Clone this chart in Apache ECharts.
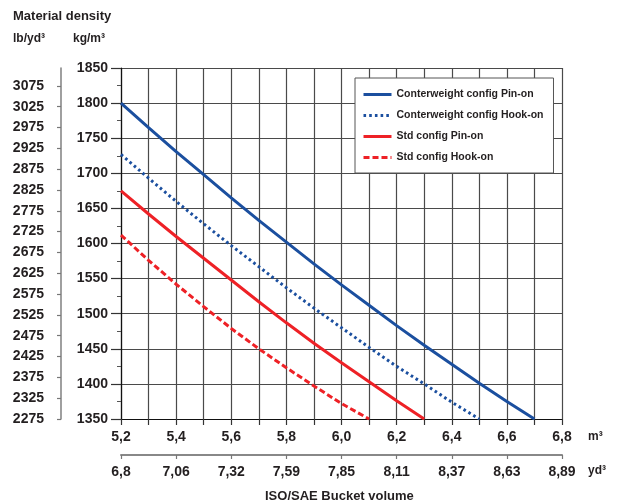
<!DOCTYPE html>
<html>
<head>
<meta charset="utf-8">
<script src="https://cdn.jsdelivr.net/npm/echarts@6/dist/echarts.min.js"></script>
<style>
html,body{margin:0;padding:0;background:#fff;}
#chart{width:618px;height:504px;}
</style>
</head>
<body>
<div id="chart"></div>
<script>
// ---- data ----
const volumeM3 = [5.2, 5.3, 5.4, 5.5, 5.6, 5.7, 5.8, 5.9, 6.0, 6.1, 6.2, 6.3, 6.4, 6.5, 6.6, 6.7];
const cwPinOn   = [1800, 1765, 1731, 1698, 1665, 1633, 1602, 1571, 1541, 1512, 1483, 1455, 1428, 1401, 1375, 1350];
const cwHookOn  = [1727, 1693, 1660, 1628, 1597, 1567, 1537, 1508, 1480, 1452, 1425, 1400, 1374, 1350];
const stdPinOn  = [1675, 1642, 1610, 1579, 1548, 1517, 1487, 1458, 1430, 1403, 1376, 1350];
const stdHookOn = [1612, 1576, 1542, 1510, 1479, 1450, 1423, 1397, 1372, 1350];
const seriesNames = ['Conterweight config Pin-on', 'Conterweight config Hook-on', 'Std config Pin-on', 'Std config Hook-on'];
const ydLabels = ['6,8', '7,06', '7,32', '7,59', '7,85', '8,11', '8,37', '8,63', '8,89'];
const lbTicks = [2275, 2325, 2375, 2425, 2475, 2525, 2575, 2625, 2675, 2725, 2775, 2825, 2875, 2925, 2975, 3025, 3075];
const KG_TO_LB = 1.68556;

const FONT = '"Liberation Sans", Arial, Helvetica, sans-serif';
const TXT = '#231f20';
const BLUE = '#1b4f9f';
const RED = '#ee2126';

function pairs(vals) { return vals.map((v, i) => [volumeM3[i], v]); }
function plain(v) { return String(Math.round(v)); }

const chart = echarts.init(document.getElementById('chart'), null, {renderer: 'canvas'});
const yMin = 1350, yMax = 1850;

const option = {
  animation: false,
  backgroundColor: '#fff',
  textStyle: {fontFamily: FONT},
  grid: {left: 121, top: 68, right: 56, bottom: 85, containLabel: false},
  legend: {
    orient: 'vertical', left: 355, top: 78,
    padding: [11, 10, 10, 7],
    itemWidth: 28, itemHeight: 10, itemGap: 10,
    itemStyle: {opacity: 0, borderWidth: 0},
    lineStyle: {width: 3},
    backgroundColor: '#fff', borderColor: '#555', borderWidth: 1, borderRadius: 0,
    textStyle: {fontSize: 10.5, fontWeight: 'bold', color: TXT, fontFamily: FONT},
    data: seriesNames
  },
  xAxis: [
    {
      type: 'value', min: 5.2, max: 6.8, interval: 0.1, position: 'bottom',
      axisLine: {show: true, onZero: false, lineStyle: {color: '#111', width: 1.2}},
      axisTick: {show: true, length: 6, lineStyle: {color: '#333', width: 1.2}},
      splitLine: {show: true, lineStyle: {color: '#4a4a4a', width: 1.2}},
      axisLabel: {
        margin: 11, fontSize: 14, fontWeight: 'bold', color: TXT, fontFamily: FONT,
        formatter: function (v) { const k = Math.round(v * 10); if (k % 2) return ''; return (k / 10).toFixed(1).replace('.', ','); }
      }
    },
    {
      type: 'value', min: 5.2, max: 6.8, interval: 0.2, position: 'bottom', offset: 36,
      axisLine: {show: true, onZero: false, lineStyle: {color: '#888', width: 2}},
      axisTick: {show: true, length: 4, lineStyle: {color: '#777', width: 1.2}},
      splitLine: {show: false},
      axisLabel: {
        margin: 10, fontSize: 14, fontWeight: 'bold', color: TXT, fontFamily: FONT,
        formatter: function (v) { return ydLabels[Math.round((v - 5.2) / 0.2)] || ''; }
      }
    }
  ],
  yAxis: [
    {
      type: 'value', min: yMin, max: yMax, interval: 50, position: 'left',
      axisLine: {show: true, onZero: false, lineStyle: {color: '#111', width: 1.2}},
      axisTick: {show: true, length: 10, lineStyle: {color: '#333', width: 1.2}},
      minorTick: {show: true, splitNumber: 2, length: 4, lineStyle: {color: '#555', width: 1}},
      splitLine: {show: true, lineStyle: {color: '#4a4a4a', width: 1.2}},
      axisLabel: {margin: 13, fontSize: 14, fontWeight: 'bold', color: TXT, fontFamily: FONT, formatter: plain}
    },
    {
      type: 'value', min: lbTicks[0], max: lbTicks[0] + (yMax - yMin) * KG_TO_LB, position: 'left', offset: 60,
      axisLine: {show: true, onZero: false, lineStyle: {color: '#888', width: 1.6}},
      axisTick: {show: true, length: 4, customValues: lbTicks, lineStyle: {color: '#777', width: 1.2}},
      splitLine: {show: false},
      axisLabel: {margin: 17, customValues: lbTicks, fontSize: 14, fontWeight: 'bold', color: TXT, fontFamily: FONT, formatter: plain}
    }
  ],
  graphic: [
    {type: 'text', left: 13, top: 10, style: {text: 'Material density', font: 'bold 13px ' + FONT, fill: TXT}},
    {type: 'text', left: 13, top: 33, style: {text: 'lb/yd³', font: 'bold 12px ' + FONT, fill: TXT}},
    {type: 'text', left: 73, top: 33, style: {text: 'kg/m³', font: 'bold 12px ' + FONT, fill: TXT}},
    {type: 'text', left: 588, top: 431, style: {text: 'm³', font: 'bold 12px ' + FONT, fill: TXT}},
    {type: 'text', left: 588, top: 465, style: {text: 'yd³', font: 'bold 12px ' + FONT, fill: TXT}},
    {type: 'text', left: 265, top: 490, style: {text: 'ISO/SAE Bucket volume', font: 'bold 13px ' + FONT, fill: TXT}}
  ],
  series: [
    {name: seriesNames[0], type: 'line', xAxisIndex: 0, yAxisIndex: 0, data: pairs(cwPinOn), symbol: 'none', smooth: false,
     lineStyle: {color: BLUE, width: 3}, itemStyle: {color: BLUE}},
    {name: seriesNames[1], type: 'line', xAxisIndex: 0, yAxisIndex: 0, data: pairs(cwHookOn), symbol: 'none',
     lineStyle: {color: BLUE, width: 3, type: [2.6, 3.1], cap: 'butt'}, itemStyle: {color: BLUE}},
    {name: seriesNames[2], type: 'line', xAxisIndex: 0, yAxisIndex: 0, data: pairs(stdPinOn), symbol: 'none',
     lineStyle: {color: RED, width: 3}, itemStyle: {color: RED}},
    {name: seriesNames[3], type: 'line', xAxisIndex: 0, yAxisIndex: 0, data: pairs(stdHookOn), symbol: 'none',
     lineStyle: {color: RED, width: 3, type: [6, 3], cap: 'butt'}, itemStyle: {color: RED}}
  ]
};
chart.setOption(option);
</script>
</body>
</html>
